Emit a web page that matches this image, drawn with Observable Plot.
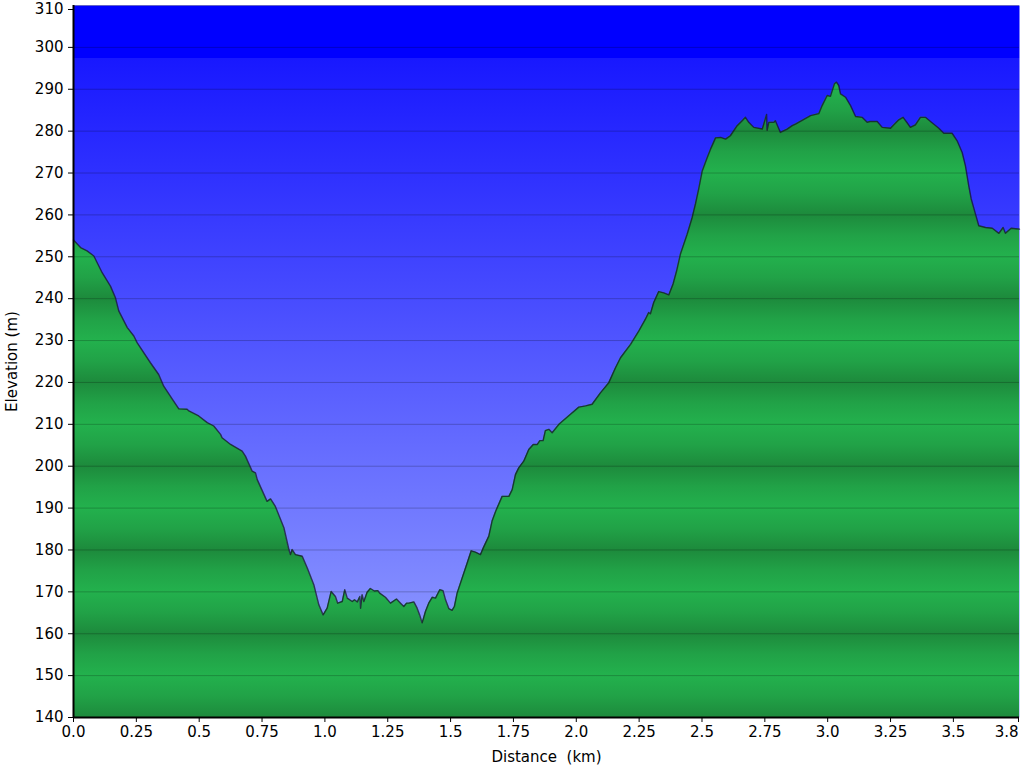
<!DOCTYPE html>
<html><head><meta charset="utf-8">
<script src="https://cdn.jsdelivr.net/npm/d3@7"></script>
<script src="https://cdn.jsdelivr.net/npm/@observablehq/plot@0.6"></script>
<style>body{margin:0;background:#fff;overflow:hidden;}</style>
</head><body><div id="chart"></div>
<script>
const distanceKm = [0.000,0.028,0.054,0.081,0.114,0.147,0.167,0.180,0.214,0.240,0.253,0.306,0.339,0.359,0.393,0.419,0.452,0.459,0.498,0.532,0.558,0.585,0.591,0.625,0.671,0.684,0.711,0.724,0.731,0.770,0.784,0.803,0.837,0.857,0.863,0.870,0.883,0.910,0.930,0.956,0.976,0.993,1.009,1.025,1.042,1.051,1.069,1.079,1.089,1.109,1.118,1.129,1.139,1.142,1.148,1.155,1.168,1.181,1.197,1.211,1.218,1.241,1.261,1.285,1.301,1.314,1.325,1.334,1.354,1.367,1.377,1.387,1.400,1.413,1.427,1.440,1.457,1.470,1.480,1.493,1.506,1.515,1.526,1.546,1.566,1.582,1.599,1.619,1.630,1.652,1.665,1.679,1.705,1.732,1.745,1.758,1.771,1.791,1.811,1.829,1.845,1.855,1.868,1.877,1.891,1.904,1.931,1.977,2.010,2.037,2.063,2.096,2.129,2.156,2.176,2.216,2.249,2.275,2.288,2.295,2.308,2.328,2.348,2.368,2.385,2.399,2.414,2.441,2.461,2.474,2.487,2.501,2.521,2.534,2.554,2.574,2.594,2.613,2.640,2.660,2.673,2.686,2.706,2.740,2.746,2.757,2.759,2.766,2.786,2.792,2.812,2.839,2.859,2.872,2.932,2.965,2.978,2.998,3.011,3.027,3.035,3.044,3.051,3.071,3.091,3.111,3.137,3.157,3.168,3.197,3.217,3.250,3.263,3.283,3.300,3.316,3.329,3.349,3.369,3.389,3.409,3.442,3.462,3.495,3.515,3.535,3.548,3.561,3.571,3.588,3.601,3.628,3.655,3.681,3.698,3.707,3.730,3.763];
const elevationM = [254.0,252.2,251.4,250.2,246.2,243.0,240.2,237.1,233.1,231.1,229.5,224.7,221.9,219.1,216.0,213.7,213.6,213.2,212.0,210.4,209.6,207.6,206.8,205.2,203.6,202.4,198.8,198.4,196.8,191.6,192.2,190.4,185.3,180.1,178.9,180.1,178.9,178.5,175.7,171.7,166.9,164.5,166.1,170.1,168.9,167.3,167.7,170.5,168.5,167.7,168.1,167.6,168.9,166.1,169.3,167.7,169.9,170.8,170.2,170.3,169.7,168.7,167.3,168.3,167.3,166.5,167.3,167.3,167.6,166.1,164.5,162.6,165.3,167.3,168.7,168.5,170.5,170.3,168.1,166.0,165.6,166.5,169.7,173.3,176.9,179.8,179.5,178.9,180.5,183.3,186.9,189.2,192.8,192.8,194.4,198.0,199.6,201.2,204.0,205.2,205.2,206.1,206.1,208.5,208.8,208.0,210.0,212.4,214.1,214.4,214.8,217.5,219.9,223.5,225.9,229.1,232.3,235.1,236.7,236.4,239.1,241.7,241.4,240.9,243.5,246.6,250.6,255.4,259.4,262.6,266.2,270.5,273.7,275.7,278.4,278.5,278.1,278.9,281.3,282.5,283.3,282.1,280.9,280.5,281.7,284.0,280.2,282.1,282.1,282.5,279.7,280.5,281.3,281.7,283.7,284.2,286.1,288.5,288.3,291.3,291.7,290.9,288.9,288.1,286.1,283.5,283.3,282.1,282.3,282.3,280.9,280.7,281.5,282.7,283.3,282.0,280.9,281.5,283.3,283.3,282.3,280.7,279.5,279.5,277.7,274.9,271.7,267.0,263.8,260.2,257.4,257.0,256.8,255.6,257.0,255.6,256.8,256.6];
const xTicks = [0,0.25,0.5,0.75,1.0,1.25,1.5,1.75,2.0,2.25,2.5,2.75,3.0,3.25,3.5,3.763];
const xTickLabels = ["0.0","0.25","0.5","0.75","1.0","1.25","1.5","1.75","2.0","2.25","2.5","2.75","3.0","3.25","3.5","3.8"];
const yTicks = [140,150,160,170,180,190,200,210,220,230,240,250,260,270,280,290,300,310];
const xLabel = "Distance\u00a0 (km)";
const yLabel = "Elevation (m)";

const profile = distanceKm.map((d, i) => ({d, e: elevationM[i]}));
const yMin = yTicks[0], yMax = yTicks[yTicks.length - 1];
const xMax = xTicks[xTicks.length - 1];
const fmtX = d => xTickLabels[xTicks.indexOf(d)];

const svg = Plot.plot({
  width: 1024, height: 768,
  marginLeft: 73, marginRight: 5, marginTop: 5, marginBottom: 51,
  style: {fontFamily: "'DejaVu Sans', Verdana, sans-serif", fontSize: "15px", color: "#000", background: "#fff"},
  x: {domain: [0, xMax]},
  y: {domain: [yMin, yMax]},
  marks: [
    Plot.frame({fill: "url(#skyGrad)", stroke: null}),
    Plot.areaY(profile, {x: "d", y1: yMin, y2: "e", fill: "url(#groundGrad)"}),
    Plot.gridY(yTicks, {stroke: "#000", strokeOpacity: 0.22, strokeWidth: 1}),
    Plot.lineY(profile, {x: "d", y: "e", stroke: "#15152a", strokeOpacity: 0.75, strokeWidth: 1.4}),
    Plot.axisY({ticks: yTicks.slice(0, -1), tickSize: 5, tickPadding: 5, label: yLabel, labelAnchor: "center", labelArrow: false, labelOffset: 67}),
    Plot.axisY({ticks: yTicks.slice(-1), tickSize: 5, tickPadding: 5, label: null, dy: 4}),
    Plot.axisX({ticks: xTicks.slice(0, -1), tickFormat: fmtX, tickSize: 5, tickPadding: 4, label: xLabel, labelAnchor: "center", labelArrow: false, labelOffset: 44}),
    Plot.axisX({ticks: xTicks.slice(-1), tickFormat: fmtX, tickSize: 5, tickPadding: 4, label: null, textAnchor: "end", dx: -1}),
    Plot.ruleX([0], {stroke: "#000", strokeWidth: 2}),
    Plot.ruleY([yMin], {stroke: "#000", strokeWidth: 2})
  ]
});

const y = svg.scale("y");
const defs = d3.select(svg).insert("defs", ":first-child");
const sky = defs.append("linearGradient").attr("id", "skyGrad")
  .attr("gradientUnits", "userSpaceOnUse")
  .attr("x1", 0).attr("x2", 0).attr("y1", y.apply(yMax)).attr("y2", y.apply(yMin));
const bandTop = (yMax - 297.5) / (yMax - yMin);
[[0, "#0000ff"], [bandTop, "#0000ff"], [bandTop + 0.0005, "#1818ff"], [1, "#9aa6ff"]]
  .forEach(([o, c]) => sky.append("stop").attr("offset", o).attr("stop-color", c));
const ground = defs.append("linearGradient").attr("id", "groundGrad")
  .attr("gradientUnits", "userSpaceOnUse").attr("spreadMethod", "repeat")
  .attr("x1", 0).attr("x2", 0).attr("y1", y.apply(160)).attr("y2", y.apply(140));
[[0, "#1d8a3c"], [0.25, "#21a247"], [0.5, "#23b14d"], [0.75, "#21a247"], [1, "#1d8a3c"]]
  .forEach(([o, c]) => ground.append("stop").attr("offset", o).attr("stop-color", c));

document.getElementById("chart").appendChild(svg);
</script>
</body></html>
